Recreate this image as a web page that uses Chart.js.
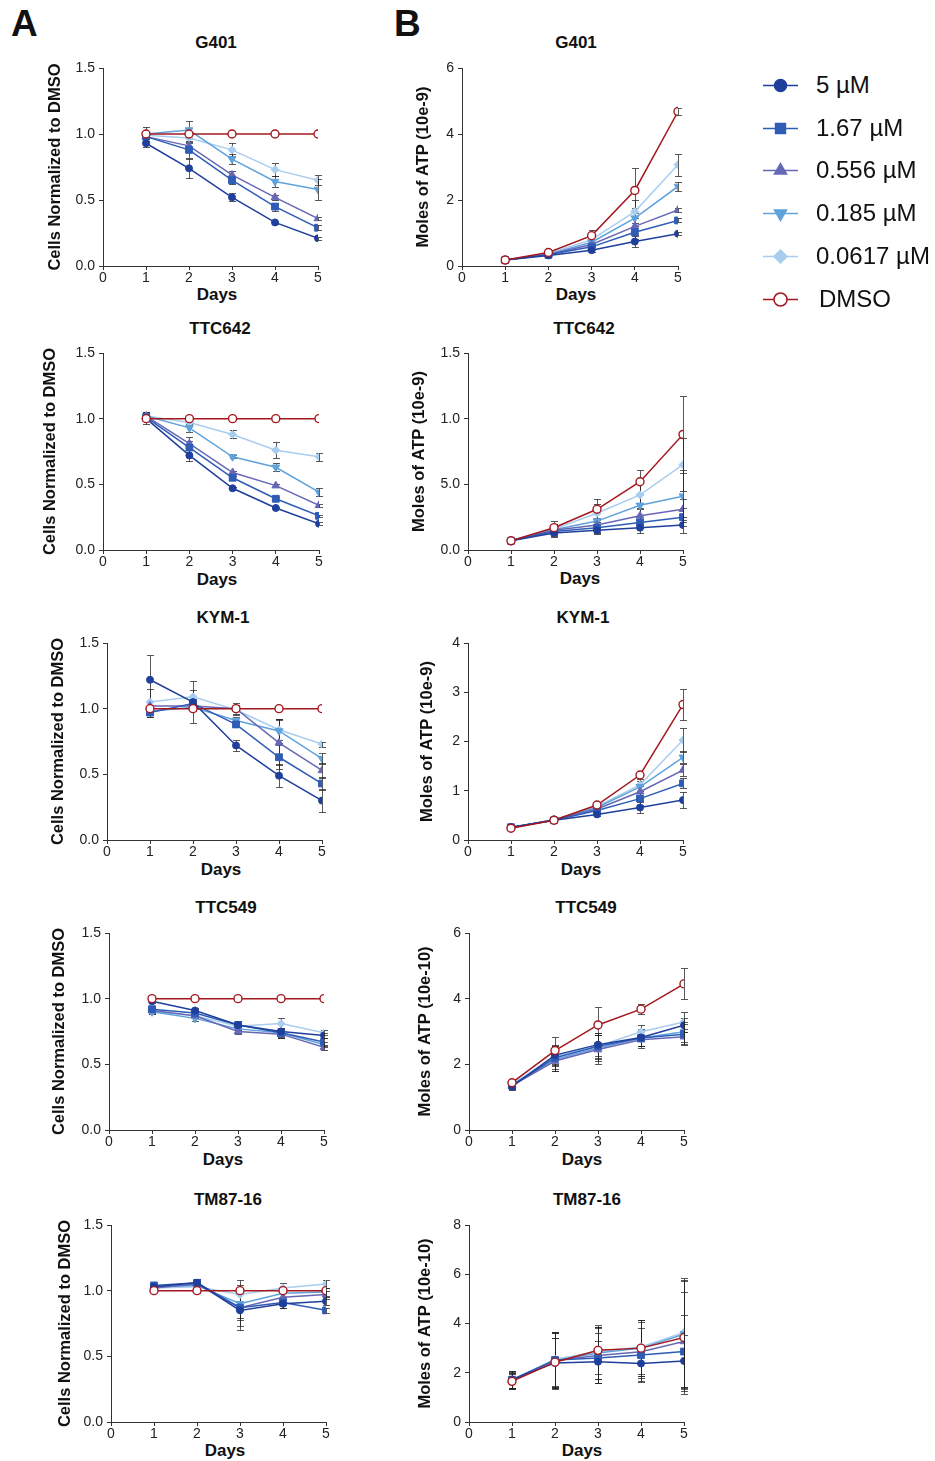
<!DOCTYPE html>
<html>
<head>
<meta charset="utf-8">
<script src="https://cdn.jsdelivr.net/npm/chart.js@4/dist/chart.umd.min.js"></script>
<style>
  body { margin: 0; background: #fff; width: 935px; height: 1461px; position: relative; overflow: hidden;
         font-family: "Liberation Sans", Arial, Helvetica, sans-serif; color: #111; }
  .abs { position: absolute; }
  .letter { font-weight: bold; font-size: 37px; line-height: 1; }
  .ptitle { font-weight: bold; font-size: 17px; transform: translate(-50%, -50%); white-space: nowrap; }
  .lg { position: absolute; left: 760px; height: 30px; display: flex; align-items: center; font-size: 24px; white-space: nowrap; }
  .lg canvas { margin-right: 10px; }
</style>
</head>
<body>
<div class="abs letter" style="left:11px;top:5px">A</div>
<div class="abs letter" style="left:394px;top:5px">B</div>

<script>
// ---- data ----
const days = [1, 2, 3, 4, 5];
const dayTicks = ['0', '1', '2', '3', '4', '5'];
const seriesNames = ['5 µM', '1.67 µM', '0.556 µM', '0.185 µM', '0.0617 µM', 'DMSO'];

const cellsTicks = ['0.0', '0.5', '1.0', '1.5'];
const g401AtpTicks = ['0', '2', '4', '6'];
const ttc642AtpTicks = ['0.0', '5.0', '1.0', '1.5'];
const kym1AtpTicks = ['0', '1', '2', '3', '4'];
const ttc549AtpTicks = ['0', '2', '4', '6'];
const tm8716AtpTicks = ['0', '2', '4', '6', '8'];

// rows: 5, 1.67, 0.556, 0.185, 0.0617 µM, DMSO
const g401Cells = [
  [0.93, 0.74, 0.52, 0.33, 0.21],
  [0.98, 0.88, 0.65, 0.45, 0.29],
  [0.98, 0.91, 0.69, 0.52, 0.36],
  [1.00, 1.03, 0.81, 0.64, 0.58],
  [0.99, 0.97, 0.88, 0.73, 0.65],
  [1.00, 1.00, 1.00, 1.00, 1.00]
];
const g401CellsErr = [
  [0.03, 0.07, 0.03, 0.01, 0.01],
  [0.03, 0.06, 0.03, 0.03, 0.02],
  [0.02, 0.04, 0.03, 0.02, 0.01],
  [0.05, 0.07, 0.04, 0.04, 0.08],
  [0.03, 0.04, 0.05, 0.05, 0.04],
  [0, 0, 0, 0, 0]
];
const g401Atp = [
  [0.18, 0.32, 0.48, 0.74, 0.98],
  [0.18, 0.34, 0.58, 1.02, 1.38],
  [0.18, 0.35, 0.65, 1.20, 1.70],
  [0.18, 0.36, 0.72, 1.45, 2.41],
  [0.18, 0.38, 0.80, 1.65, 3.07],
  [0.18, 0.41, 0.92, 2.29, 4.68]
];
const g401AtpErr = [
  [0.02, 0.03, 0.05, 0.16, 0.04],
  [0.02, 0.03, 0.06, 0.20, 0.06],
  [0.02, 0.03, 0.08, 0.25, 0.05],
  [0.02, 0.04, 0.10, 0.30, 0.15],
  [0.02, 0.04, 0.12, 0.35, 0.33],
  [0.03, 0.04, 0.18, 0.68, 0.10]
];
const ttc642Cells = [
  [1.00, 0.72, 0.47, 0.32, 0.20],
  [1.01, 0.78, 0.55, 0.39, 0.26],
  [1.02, 0.81, 0.59, 0.49, 0.34],
  [1.02, 0.93, 0.71, 0.63, 0.44],
  [1.02, 0.97, 0.88, 0.76, 0.71],
  [1.00, 1.00, 1.00, 1.00, 1.00]
];
const ttc642CellsErr = [
  [0.04, 0.04, 0.01, 0.01, 0.01],
  [0.03, 0.05, 0.01, 0.01, 0.01],
  [0.03, 0.05, 0.01, 0.01, 0.01],
  [0.03, 0.03, 0.01, 0.03, 0.03],
  [0.03, 0.02, 0.03, 0.06, 0.03],
  [0, 0, 0, 0, 0]
];
const ttc642Atp = [
  [0.07, 0.13, 0.15, 0.17, 0.19],
  [0.07, 0.14, 0.17, 0.21, 0.25],
  [0.07, 0.15, 0.19, 0.26, 0.31],
  [0.07, 0.155, 0.22, 0.34, 0.41],
  [0.07, 0.16, 0.28, 0.42, 0.65],
  [0.07, 0.17, 0.31, 0.52, 0.88]
];
const ttc642AtpErr = [
  [0.01, 0.03, 0.03, 0.04, 0.06],
  [0.01, 0.03, 0.04, 0.04, 0.07],
  [0.01, 0.03, 0.05, 0.05, 0.08],
  [0.01, 0.04, 0.06, 0.09, 0.20],
  [0.01, 0.04, 0.07, 0.10, 0.20],
  [0.01, 0.05, 0.08, 0.09, 0.29]
];
const kym1Cells = [
  [1.22, 1.05, 0.72, 0.49, 0.30],
  [0.97, 1.04, 0.88, 0.63, 0.43],
  [1.02, 1.02, 1.00, 0.74, 0.53],
  [0.98, 1.01, 0.91, 0.83, 0.62],
  [1.05, 1.09, 0.99, 0.84, 0.73],
  [1.00, 1.00, 1.00, 1.00, 1.00]
];
const kym1CellsErr = [
  [0.19, 0.16, 0.04, 0.09, 0.09],
  [0.03, 0.03, 0.02, 0.09, 0.05],
  [0.04, 0.03, 0.04, 0.17, 0.06],
  [0.04, 0.03, 0.03, 0.09, 0.04],
  [0.10, 0.05, 0.04, 0.08, 0.02],
  [0, 0, 0, 0, 0]
];
const kym1Atp = [
  [0.26, 0.40, 0.52, 0.66, 0.81],
  [0.26, 0.40, 0.60, 0.84, 1.15],
  [0.25, 0.41, 0.63, 0.98, 1.42],
  [0.25, 0.41, 0.66, 1.08, 1.68],
  [0.25, 0.41, 0.68, 1.12, 2.03],
  [0.24, 0.40, 0.71, 1.32, 2.75]
];
const kym1AtpErr = [
  [0.02, 0.02, 0.03, 0.12, 0.17],
  [0.02, 0.02, 0.04, 0.12, 0.10],
  [0.02, 0.02, 0.04, 0.12, 0.13],
  [0.02, 0.02, 0.05, 0.12, 0.12],
  [0.02, 0.02, 0.05, 0.12, 0.25],
  [0.02, 0.02, 0.03, 0.03, 0.31]
];
const ttc549Cells = [
  [0.98, 0.91, 0.80, 0.75, 0.72],
  [0.92, 0.89, 0.80, 0.74, 0.67],
  [0.91, 0.87, 0.75, 0.73, 0.63],
  [0.90, 0.85, 0.77, 0.74, 0.65],
  [0.90, 0.87, 0.79, 0.81, 0.74],
  [1.00, 1.00, 1.00, 1.00, 1.00]
];
const ttc549CellsErr = [
  [0.01, 0.02, 0.03, 0.03, 0.02],
  [0.02, 0.02, 0.03, 0.04, 0.03],
  [0.02, 0.02, 0.02, 0.03, 0.02],
  [0.02, 0.02, 0.03, 0.03, 0.02],
  [0.02, 0.02, 0.03, 0.04, 0.02],
  [0, 0, 0, 0, 0]
];
const ttc549Atp = [
  [1.32, 2.28, 2.60, 2.82, 3.19],
  [1.35, 2.20, 2.55, 2.80, 2.92],
  [1.35, 2.10, 2.45, 2.75, 2.84],
  [1.38, 2.15, 2.50, 2.80, 2.99],
  [1.40, 2.25, 2.55, 2.99, 3.29],
  [1.44, 2.42, 3.20, 3.68, 4.45]
];
const ttc549AtpErr = [
  [0.10, 0.30, 0.35, 0.25, 0.22],
  [0.10, 0.35, 0.40, 0.25, 0.30],
  [0.10, 0.30, 0.45, 0.25, 0.25],
  [0.10, 0.35, 0.40, 0.25, 0.30],
  [0.10, 0.30, 0.35, 0.20, 0.30],
  [0.10, 0.40, 0.55, 0.15, 0.47]
];
const tm8716Cells = [
  [1.03, 1.06, 0.85, 0.90, 0.92],
  [1.04, 1.06, 0.87, 0.91, 0.85],
  [1.02, 1.05, 0.87, 0.95, 0.97],
  [1.03, 1.04, 0.90, 0.98, 0.99],
  [1.02, 1.03, 0.97, 1.02, 1.05],
  [1.00, 1.00, 1.00, 1.00, 1.00]
];
const tm8716CellsErr = [
  [0.01, 0.03, 0.06, 0.03, 0.03],
  [0.01, 0.03, 0.17, 0.04, 0.02],
  [0.01, 0.04, 0.14, 0.05, 0.03],
  [0.01, 0.04, 0.12, 0.04, 0.03],
  [0.01, 0.05, 0.11, 0.04, 0.03],
  [0, 0, 0, 0, 0]
];
const tm8716Atp = [
  [1.72, 2.40, 2.45, 2.38, 2.48],
  [1.72, 2.52, 2.60, 2.72, 2.86],
  [1.70, 2.50, 2.70, 2.85, 3.27],
  [1.70, 2.50, 2.80, 3.00, 3.57],
  [1.70, 2.55, 2.85, 3.05, 3.64],
  [1.65, 2.43, 2.91, 3.00, 3.43]
];
const tm8716AtpErr = [
  [0.35, 1.00, 0.85, 0.60, 1.05],
  [0.35, 1.10, 1.00, 1.10, 1.50],
  [0.30, 1.10, 1.10, 1.20, 2.00],
  [0.35, 1.15, 1.05, 1.15, 2.20],
  [0.30, 1.10, 1.10, 1.10, 2.20],
  [0.30, 1.00, 0.95, 1.15, 2.30]
];

// ---- styles ----
const seriesColors = ['#1f3f9c', '#2e5cb6', '#6668b6', '#5fa2dc', '#a9cdef', '#a3181e'];
const seriesShapes = ['circle', 'rect', 'triangle', 'triangle', 'rectRot', 'circle'];
const seriesRot = [0, 0, 0, 180, 0, 0];
const seriesRadius = [3.5, 4.8, 4.5, 4.5, 4, 4];
const FONT = '"Liberation Sans", Arial, Helvetica, sans-serif';
Chart.defaults.font.family = FONT;

const cellsTitle = 'Cells Normalized to DMSO';

const panels = [
  { title: 'G401', yTitle: cellsTitle, values: g401Cells, errors: g401CellsErr, yMax: 1.5, yStep: 0.5, yLabels: cellsTicks,
    box: { left: 103, right: 318, top: 68, bottom: 266, ytx: 56, daysX: 217, daysY: 295, tx: 216, ty: 43 } },
  { title: 'G401', yTitle: 'Moles of ATP (10e-9)', values: g401Atp, errors: g401AtpErr, yMax: 6, yStep: 2, yLabels: g401AtpTicks,
    box: { left: 462, right: 678, top: 68, bottom: 266, ytx: 424, daysX: 576, daysY: 295, tx: 576, ty: 43 } },
  { title: 'TTC642', yTitle: cellsTitle, values: ttc642Cells, errors: ttc642CellsErr, yMax: 1.5, yStep: 0.5, yLabels: cellsTicks,
    box: { left: 103, right: 319, top: 353, bottom: 550, ytx: 51, daysX: 217, daysY: 580, tx: 220, ty: 329 } },
  { title: 'TTC642', yTitle: 'Moles of ATP (10e-9)', values: ttc642Atp, errors: ttc642AtpErr, yMax: 1.5, yStep: 0.5, yLabels: ttc642AtpTicks,
    box: { left: 468, right: 683, top: 353, bottom: 550, ytx: 420, daysX: 580, daysY: 579, tx: 584, ty: 329 } },
  { title: 'KYM-1', yTitle: cellsTitle, values: kym1Cells, errors: kym1CellsErr, yMax: 1.5, yStep: 0.5, yLabels: cellsTicks,
    box: { left: 107, right: 322, top: 643, bottom: 840, ytx: 59, daysX: 221, daysY: 870, tx: 223, ty: 618 } },
  { title: 'KYM-1', yTitle: 'Moles of ATP (10e-9)', values: kym1Atp, errors: kym1AtpErr, yMax: 4, yStep: 1, yLabels: kym1AtpTicks,
    box: { left: 468, right: 683, top: 643, bottom: 840, ytx: 428, daysX: 581, daysY: 870, tx: 583, ty: 618 } },
  { title: 'TTC549', yTitle: cellsTitle, values: ttc549Cells, errors: ttc549CellsErr, yMax: 1.5, yStep: 0.5, yLabels: cellsTicks,
    box: { left: 109, right: 324, top: 933, bottom: 1130, ytx: 60, daysX: 223, daysY: 1160, tx: 226, ty: 908 } },
  { title: 'TTC549', yTitle: 'Moles of ATP (10e-10)', values: ttc549Atp, errors: ttc549AtpErr, yMax: 6, yStep: 2, yLabels: ttc549AtpTicks,
    box: { left: 469, right: 684, top: 933, bottom: 1130, ytx: 426, daysX: 582, daysY: 1160, tx: 586, ty: 908 } },
  { title: 'TM87-16', yTitle: cellsTitle, values: tm8716Cells, errors: tm8716CellsErr, yMax: 1.5, yStep: 0.5, yLabels: cellsTicks,
    box: { left: 111, right: 326, top: 1225, bottom: 1422, ytx: 66, daysX: 225, daysY: 1451, tx: 228, ty: 1200 } },
  { title: 'TM87-16', yTitle: 'Moles of ATP (10e-10)', values: tm8716Atp, errors: tm8716AtpErr, yMax: 8, yStep: 2, yLabels: tm8716AtpTicks,
    box: { left: 469, right: 684, top: 1225, bottom: 1422, ytx: 426, daysX: 582, daysY: 1451, tx: 587, ty: 1200 } }
];

// vertical error bars with caps, drawn through the chart's own scales
const errorBars = {
  id: 'errorBars',
  beforeDatasetsDraw(chart) {
    const ctx = chart.ctx, xs = chart.scales.x, ys = chart.scales.y, area = chart.chartArea;
    ctx.save();
    ctx.beginPath();
    ctx.rect(area.left, area.top - 10, area.right - area.left + 10, area.bottom - area.top + 10);
    ctx.clip();
    ctx.strokeStyle = 'rgba(35,35,35,0.75)';
    ctx.lineWidth = 1;
    chart.data.datasets.forEach(function(ds) {
      (ds.errors || []).forEach(function(e, k) {
        if (!e) return;
        const pt = ds.data[k];
        const px = Math.round(xs.getPixelForValue(pt.x)) + 0.5;
        const yHi = Math.round(ys.getPixelForValue(pt.y + e)) + 0.5;
        const yLo = Math.round(ys.getPixelForValue(pt.y - e)) + 0.5;
        ctx.beginPath();
        ctx.moveTo(px, yHi); ctx.lineTo(px, yLo);
        ctx.moveTo(px - 3.5, yHi); ctx.lineTo(px + 3.5, yHi);
        ctx.moveTo(px - 3.5, yLo); ctx.lineTo(px + 3.5, yLo);
        ctx.stroke();
      });
    });
    ctx.restore();
  }
};

function addText(cls, text, x, y, extra) {
  const d = document.createElement('div');
  d.className = 'abs ' + cls;
  d.style.left = x + 'px';
  d.style.top = y + 'px';
  if (extra) d.style.fontSize = extra;
  d.textContent = text;
  document.body.appendChild(d);
}

function makePanel(p) {
  const b = p.box;
  const cx = b.ytx - 10;         // axis title line centre sits 10px inside the canvas
  const ct = b.top - 14;
  const cw = b.right + 14 - cx;
  const ch = b.daysY + 10 - ct;

  addText('ptitle', p.title, b.tx, b.ty);
  addText('ptitle', 'Days', b.daysX, b.daysY);

  const c = document.createElement('canvas');
  c.className = 'abs';
  c.width = cw; c.height = ch;
  c.style.left = cx + 'px'; c.style.top = ct + 'px';
  c.style.width = cw + 'px'; c.style.height = ch + 'px';
  document.body.appendChild(c);

  const datasets = p.values.map(function(vals, i) {
    const isDmso = i === 5;
    return {
      label: seriesNames[i],
      data: days.map(function(d, k) { return { x: d, y: vals[k] }; }),
      errors: p.errors[i],
      borderColor: seriesColors[i],
      backgroundColor: isDmso ? '#ffffff' : seriesColors[i],
      borderWidth: 1.5,
      pointStyle: seriesShapes[i],
      rotation: seriesRot[i],
      pointRadius: seriesRadius[i],
      pointBorderWidth: isDmso ? 1.4 : 1,
      pointBorderColor: seriesColors[i],
      pointBackgroundColor: isDmso ? '#ffffff' : seriesColors[i],
      tension: 0,
      fill: false,
      order: isDmso ? -1 : i
    };
  });

  new Chart(c, {
    type: 'line',
    data: { datasets: datasets },
    plugins: [errorBars],
    options: {
      responsive: false,
      animation: false,
      devicePixelRatio: 1,
      layout: { padding: { top: 14, right: 14, left: 0, bottom: 0 } },
      plugins: { legend: { display: false }, tooltip: { enabled: false } },
      scales: {
        x: {
          type: 'linear', min: 0, max: 5,
          afterFit: function(s) { s.height = b.daysY + 10 - b.bottom; },
          ticks: { stepSize: 1, color: '#222', font: { size: 14 }, padding: 0,
                   callback: function(v, i) { return dayTicks[i]; } },
          grid: { drawOnChartArea: false, drawTicks: true, tickLength: 4, color: '#333' },
          border: { color: '#333', width: 1 },
          title: { display: false }
        },
        y: {
          min: 0, max: p.yMax,
          afterFit: function(s) { s.width = b.left - cx; },
          ticks: { stepSize: p.yStep, color: '#222', font: { size: 14 }, padding: 4,
                   callback: function(v, i) { return p.yLabels[i]; } },
          grid: { drawOnChartArea: false, drawTicks: true, tickLength: 4, color: '#333' },
          border: { color: '#333', width: 1 },
          title: { display: true, text: p.yTitle, color: '#111', font: { size: 16.5, weight: 'bold' }, padding: { top: 0, bottom: 0 } }
        }
      }
    }
  });
}

panels.forEach(makePanel);

// ---- legend ----
seriesNames.forEach(function(name, i) {
  const row = document.createElement('div');
  row.className = 'lg';
  row.style.top = (85 + i * 42.7 - 15) + 'px';
  const c = document.createElement('canvas');
  c.width = 46; c.height = 30;
  row.appendChild(c);
  const s = document.createElement('span');
  s.textContent = name;
  if (i === 5) s.style.marginLeft = '3px';
  row.appendChild(s);
  document.body.appendChild(row);

  const ctx = c.getContext('2d');
  ctx.strokeStyle = seriesColors[i];
  ctx.lineWidth = 1.5;
  ctx.beginPath(); ctx.moveTo(3, 15.5); ctx.lineTo(38, 15.5); ctx.stroke();
  ctx.fillStyle = i === 5 ? '#ffffff' : seriesColors[i];
  Chart.helpers.drawPoint(ctx, {
    pointStyle: seriesShapes[i], rotation: seriesRot[i],
    radius: [6, 7, 7, 7, 6.5, 6.5][i], borderWidth: i === 5 ? 1.5 : 1
  }, 20.5, 15.5);
});
</script>
</body>
</html>
